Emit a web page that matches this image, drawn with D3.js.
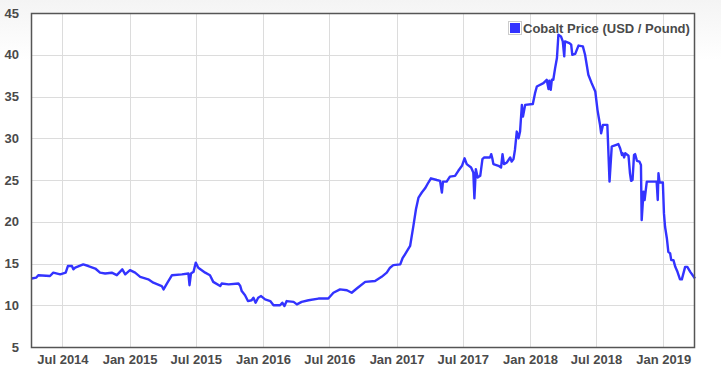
<!DOCTYPE html>
<html>
<head>
<meta charset="utf-8">
<script src="https://cdn.jsdelivr.net/npm/d3@7"></script>
<style>
  html, body { margin: 0; padding: 0; }
  body { width: 721px; height: 376px; overflow: hidden; background: linear-gradient(#f4f4f4 0px, #ffffff 60px); }
  svg { display: block; }
  text { font-family: "Liberation Sans", Arial, sans-serif; font-weight: bold; font-size: 13px; fill: #4a4a4a; }
</style>
</head>
<body>
<svg id="chart" width="721" height="376"></svg>
<script>
// ---- data ----
const seriesName = "Cobalt Price (USD / Pound)";
const dates = [
"2014-04-08","2014-04-20","2014-04-26","2014-05-28","2014-06-06","2014-06-25","2014-07-10","2014-07-16","2014-07-27","2014-07-31",
"2014-08-05","2014-08-27","2014-09-10","2014-09-29","2014-10-12","2014-10-26","2014-11-13","2014-11-27","2014-12-12","2014-12-20",
"2015-01-02","2015-01-16","2015-01-30","2015-02-21","2015-03-07","2015-03-30","2015-04-04","2015-04-13","2015-04-27","2015-05-24",
"2015-06-11","2015-06-14","2015-06-18","2015-06-25","2015-07-01","2015-07-08","2015-07-27","2015-08-09","2015-08-18","2015-09-06",
"2015-09-10","2015-09-29","2015-10-26","2015-10-31","2015-11-04","2015-11-13","2015-11-21","2015-12-01","2015-12-06","2015-12-12",
"2015-12-19","2015-12-27","2016-01-07","2016-01-21","2016-01-30","2016-02-17","2016-02-23","2016-02-29","2016-03-06","2016-03-25",
"2016-04-03","2016-04-16","2016-05-05","2016-06-01","2016-06-28","2016-07-12","2016-07-30","2016-08-18","2016-08-31","2016-09-14",
"2016-10-07","2016-11-03","2016-11-21","2016-12-05","2016-12-14","2016-12-23","2017-01-11","2017-01-17","2017-01-24","2017-02-07",
"2017-02-16","2017-02-23","2017-03-02","2017-03-11","2017-03-20","2017-03-29","2017-04-05","2017-04-21","2017-04-30","2017-05-05",
"2017-05-08","2017-05-18","2017-05-27","2017-06-10","2017-06-19","2017-06-29","2017-07-06","2017-07-12","2017-07-24","2017-07-30",
"2017-08-02","2017-08-06","2017-08-11","2017-08-18","2017-08-24","2017-08-29","2017-09-14","2017-09-17","2017-09-20","2017-09-23",
"2017-10-07","2017-10-14","2017-10-18","2017-10-22","2017-10-30","2017-11-08","2017-11-12","2017-11-17","2017-11-21","2017-11-26",
"2017-12-01","2017-12-05","2017-12-10","2017-12-13","2017-12-19","2018-01-09","2018-01-15","2018-01-20","2018-02-07","2018-02-16",
"2018-02-21","2018-02-23","2018-02-27","2018-03-02","2018-03-06","2018-03-11","2018-03-16","2018-03-20","2018-03-27","2018-04-01",
"2018-04-05","2018-04-07","2018-04-19","2018-04-24","2018-04-27","2018-05-05","2018-05-14","2018-05-26","2018-06-01","2018-06-10",
"2018-06-19","2018-06-29","2018-07-05","2018-07-08","2018-07-12","2018-07-15","2018-07-20","2018-08-01","2018-08-07","2018-08-13",
"2018-08-18","2018-08-31","2018-09-05","2018-09-10","2018-09-12","2018-09-16","2018-09-19","2018-09-28","2018-10-02","2018-10-05",
"2018-10-09","2018-10-13","2018-10-16","2018-10-21","2018-10-28","2018-11-01","2018-11-03","2018-11-08","2018-11-11","2018-11-17",
"2018-12-14","2018-12-17","2018-12-19","2018-12-22","2018-12-31","2019-01-03","2019-01-06","2019-01-11","2019-01-15","2019-01-20",
"2019-01-23","2019-01-29","2019-02-03","2019-02-09","2019-02-16","2019-02-21","2019-03-02","2019-03-08","2019-03-16","2019-03-29"
];
const prices = [
13.2,13.3,13.6,13.5,13.9,13.7,13.9,14.7,14.7,14.3,
14.5,14.9,14.7,14.4,13.9,13.8,13.9,13.6,14.3,13.7,
14.2,13.9,13.4,13.1,12.7,12.3,11.9,12.6,13.6,13.7,
13.8,12.4,13.8,14.0,15.1,14.5,13.9,13.6,12.8,12.3,
12.6,12.5,12.6,12.3,11.7,11.2,10.5,10.6,10.9,10.3,
10.9,11.1,10.7,10.5,10.0,10.0,10.3,9.9,10.5,10.4,
10.1,10.4,10.6,10.8,10.8,11.5,11.9,11.8,11.5,12.0,
12.8,12.9,13.4,13.9,14.5,14.8,14.9,15.6,16.1,17.1,
19.5,21.5,22.9,23.5,24.0,24.7,25.2,25.0,24.9,23.5,
24.8,24.8,25.4,25.5,26.1,26.7,27.6,26.9,26.5,25.9,
22.8,26.3,25.3,25.5,27.5,27.7,27.7,28.1,27.6,26.9,
26.7,26.5,28.1,26.9,27.1,27.7,27.2,27.5,28.6,30.8,
30.0,30.8,34.0,32.6,34.0,34.1,35.4,36.2,36.6,37.0,
35.9,36.9,35.8,37.0,37.0,38.4,39.6,42.4,42.2,41.6,
39.8,41.6,41.4,41.2,40.0,40.1,41.1,41.0,40.0,37.6,
36.6,35.6,33.4,32.6,31.6,30.6,31.6,31.6,24.8,29.0,
29.1,29.3,28.8,28.0,28.2,27.7,28.2,27.9,25.8,24.9,
25.0,28.0,28.1,27.3,27.2,26.8,20.2,23.6,22.6,24.8,
24.8,22.6,25.8,24.7,24.7,21.0,19.4,18.0,16.4,16.2,
15.4,15.4,14.6,14.0,13.1,13.1,14.6,14.6,14.0,13.2
];
const yTicks = [5, 10, 15, 20, 25, 30, 35, 40, 45];
const xTickDates = ["2014-07-01","2015-01-01","2015-07-01","2016-01-01","2016-07-01","2017-01-01","2017-07-01","2018-01-01","2018-07-01","2019-01-01"];
const xTickLabels = ["Jul 2014","Jan 2015","Jul 2015","Jan 2016","Jul 2016","Jan 2017","Jul 2017","Jan 2018","Jul 2018","Jan 2019"];
const xDomain = ["2014-04-06", "2019-03-29"];
const yDomain = [5, 45];

// ---- drawing ----
const parse = d3.utcParse("%Y-%m-%d");
const data = dates.map((d, i) => ({ date: parse(d), value: prices[i] }));

const svg = d3.select("#chart");
const m = { left: 31, top: 13, right: 26, bottom: 29 };
const W = 721, H = 376;

const x = d3.scaleUtc().domain(xDomain.map(parse)).range([m.left, W - m.right]);
const y = d3.scaleLinear().domain(yDomain).range([H - m.bottom, m.top]);

svg.append("rect")
  .attr("x", m.left).attr("y", m.top)
  .attr("width", W - m.right - m.left).attr("height", H - m.bottom - m.top)
  .attr("fill", "#ffffff");

// grid
const grid = svg.append("g").attr("stroke", "#dcdcdc").attr("stroke-width", 1);
grid.selectAll("line.h").data(yTicks).join("line")
  .attr("x1", m.left).attr("x2", W - m.right)
  .attr("y1", d => Math.round(y(d)) + 0.5).attr("y2", d => Math.round(y(d)) + 0.5);
grid.selectAll("line.v").data(xTickDates).join("line")
  .attr("y1", m.top).attr("y2", H - m.bottom)
  .attr("x1", d => Math.round(x(parse(d))) + 0.5).attr("x2", d => Math.round(x(parse(d))) + 0.5);

// y axis labels
const yAxis = d3.axisLeft(y).tickValues(yTicks).tickSize(0).tickPadding(12);
const gy = svg.append("g").attr("transform", `translate(${m.left},0)`).call(yAxis);
gy.select(".domain").remove();
gy.selectAll("text").attr("font-size", 13).attr("font-family", null).attr("fill", "#4a4a4a");

// x axis labels
const xAxis = d3.axisBottom(x).tickValues(xTickDates.map(parse))
  .tickFormat((d, i) => xTickLabels[i]).tickSize(0).tickPadding(8);
const gx = svg.append("g").attr("transform", `translate(0,${H - m.bottom})`).call(xAxis);
gx.select(".domain").remove();
gx.selectAll("text").attr("font-size", 13).attr("font-family", null).attr("fill", "#4a4a4a");

// line
const line = d3.line().x(d => x(d.date)).y(d => y(d.value));
svg.append("path").datum(data)
  .attr("fill", "none").attr("stroke", "#3333ff").attr("stroke-width", 2.4)
  .attr("stroke-linejoin", "round")
  .attr("d", line);

// border
svg.append("rect")
  .attr("x", m.left + 0.5).attr("y", m.top + 0.5)
  .attr("width", W - m.right - m.left - 1).attr("height", H - m.bottom - m.top)
  .attr("fill", "none").attr("stroke", "#555555").attr("stroke-width", 1.5);

// legend
const lg = svg.append("g").attr("transform", `translate(${W - m.right - 187},21)`);
lg.append("rect").attr("x", 0.5).attr("y", 0.5).attr("width", 13).attr("height", 13)
  .attr("fill", "#ffffff").attr("stroke", "#cccccc");
lg.append("rect").attr("x", 2).attr("y", 2).attr("width", 10).attr("height", 10).attr("fill", "#3333ff");
lg.append("text").attr("x", 15).attr("y", 11.5).text(seriesName);
</script>
</body>
</html>
